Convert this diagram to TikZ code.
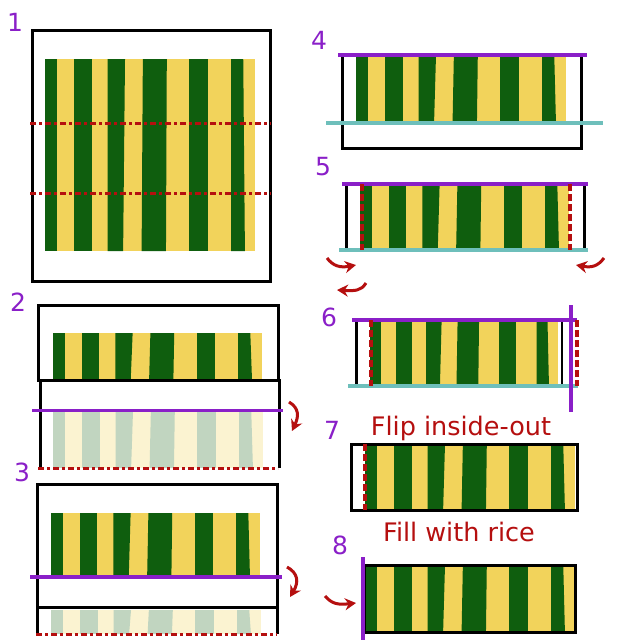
\documentclass[tikz,border=0pt]{standalone}
\usepackage{fontspec}
\setmainfont{DejaVu Sans}
\usetikzlibrary{arrows.meta}
\definecolor{fg}{HTML}{0F5E0E}
\definecolor{fy}{HTML}{F2D35B}
\definecolor{pu}{HTML}{8A1FC8}
\definecolor{rd}{HTML}{B50F0F}
\definecolor{tl}{HTML}{6EBFBB}
\colorlet{fgl}{fg!26!white}
\colorlet{fyl}{fy!28!white}
% x0 y0 x1 y1 yellow green
\newcommand\fabric[6]{%
  \fill[#5] (#1,#2) rectangle (#3,#4);
  \foreach \ta/\tb/\ba/\bb in {0/0.057/0/0.057,0.138/0.222/0.138/0.222,0.298/0.381/0.298/0.372,0.466/0.580/0.460/0.576,0.688/0.776/0.688/0.776,0.886/0.944/0.886/0.952}{
    \fill[#6] ({#1+(#3-#1)*\ta},#2) -- ({#1+(#3-#1)*\tb},#2) -- ({#1+(#3-#1)*\bb},#4) -- ({#1+(#3-#1)*\ba},#4) -- cycle;
  }}
\tikzset{
  frm/.style={draw=black,line width=3pt},
  purpline/.style={draw=pu,line width=3.5pt},
  tealline/.style={draw=tl,line width=4pt},
  reddash/.style={draw=rd,line width=3pt,dash pattern=on 6pt off 3pt on 3pt off 3pt},
  redvert/.style={draw=rd,line width=4pt,dash pattern=on 7pt off 3pt},
  numtext/.style={text=pu,font=\fontsize{25}{28}\selectfont,inner sep=0pt},
  captext/.style={text=rd,font=\fontsize{25.5}{28}\selectfont,inner sep=0pt},
  hookarrow/.style={draw=rd,line width=3pt,-{Stealth[length=11pt,width=12pt]}},
}
\begin{document}
\begin{tikzpicture}[x=1pt,y=-1pt]
\useasboundingbox (0,0) rectangle (640,640);
\fill[white] (0,0) rectangle (640,640);
% ---- Panel 1
\node[numtext] (n1) at (15,22) {1};
\draw[frm] (32,30) rectangle (270,281);
\fabric{45}{59}{255}{251}{fy}{fg}
\draw[reddash] (30,123) -- (271,123);
\draw[reddash] (30,193) -- (271,193);
% ---- Panel 2
\node[numtext] (n2) at (18,302) {2};
\fabric{53}{333}{262}{379}{fy}{fg}
\draw[frm] (38,305) rectangle (278,380);
\fabric{53}{411}{263}{468}{fyl}{fgl}
\draw[frm] (40,468) -- (40,380) -- (279,380) -- (279,468);
\draw[purpline] (32,410.5) -- (283,410.5);
\draw[reddash] (38,468) -- (278,468);
\draw[hookarrow] (289,402) .. controls (299,408) and (299,416) .. (292,431);
% ---- Panel 3
\node[numtext] (n3) at (22,472) {3};
\fabric{51}{513}{260}{577}{fy}{fg}
\draw[frm] (37,484) rectangle (277,607);
\fabric{51}{610}{261}{634}{fyl}{fgl}
\draw[frm] (37,607) -- (37,634);
\draw[frm] (277,607) -- (277,634);
\draw[purpline] (30,577) -- (282,577);
\draw[reddash] (36,634) -- (277,634);
\draw[hookarrow] (287,567) .. controls (298,573) and (299,582) .. (290,597);
% ---- Panel 4
\node[numtext] (n4) at (319,40) {4};
\draw[frm] (342,55) -- (342,148) -- (581,148) -- (581,55);
\fabric{356}{55}{566}{121}{fy}{fg}
\draw[purpline] (338,55) -- (587,55);
\draw[tealline] (326,123) -- (603,123);
% ---- Panel 5
\node[numtext] (n5) at (323,167) {5};
\draw[frm] (346,184) -- (346,250);
\draw[frm] (584,184) -- (584,250);
\fabric{360}{184}{569}{250}{fy}{fg}
\draw[purpline] (342,184) -- (588,184);
\draw[tealline] (339,250) -- (588,250);
\draw[redvert] (362,184) -- (362,250);
\draw[redvert] (570,184) -- (570,250);
\draw[hookarrow] (327,258) .. controls (333,266) and (340,268) .. (356,265);
\draw[hookarrow] (604,258) .. controls (598,266) and (592,268) .. (576,265);
\draw[hookarrow] (366,283) .. controls (361,291) and (355,291) .. (337,290);
% ---- Panel 6
\node[numtext] (n6) at (329,317) {6};
\draw[frm] (356,320) -- (356,386);
\fabric{370}{320}{558}{386}{fy}{fg}
\draw[black,line width=1.5pt] (562,320) -- (562,386);
\draw[purpline] (352,320) -- (577,320);
\draw[tealline] (348,386) -- (578,386);
\draw[redvert] (371,320) -- (371,386);
\draw[redvert] (577,320) -- (577,386);
\draw[purpline] (571,305) -- (571,412);
% ---- Panel 7
\node[numtext] (n7) at (332,430) {7};
\node[captext] (c7) at (461,428) {Flip inside-out};
\fabric{365}{444}{575}{510}{fy}{fg}
\draw[frm] (351,444) rectangle (577,510);
\draw[redvert] (365,444) -- (365,510);
% ---- Panel 8
\node[captext] (c8) at (459,532) {Fill with rice};
\node[numtext] (n8) at (340,545) {8};
\fabric{365}{565}{575}{632}{fy}{fg}
\draw[frm] (364,565) rectangle (575,632);
\draw[purpline] (363,557) -- (363,640);
\draw[hookarrow] (325,596) .. controls (332,604) and (338,605) .. (356,603);
\end{tikzpicture}
\end{document}
